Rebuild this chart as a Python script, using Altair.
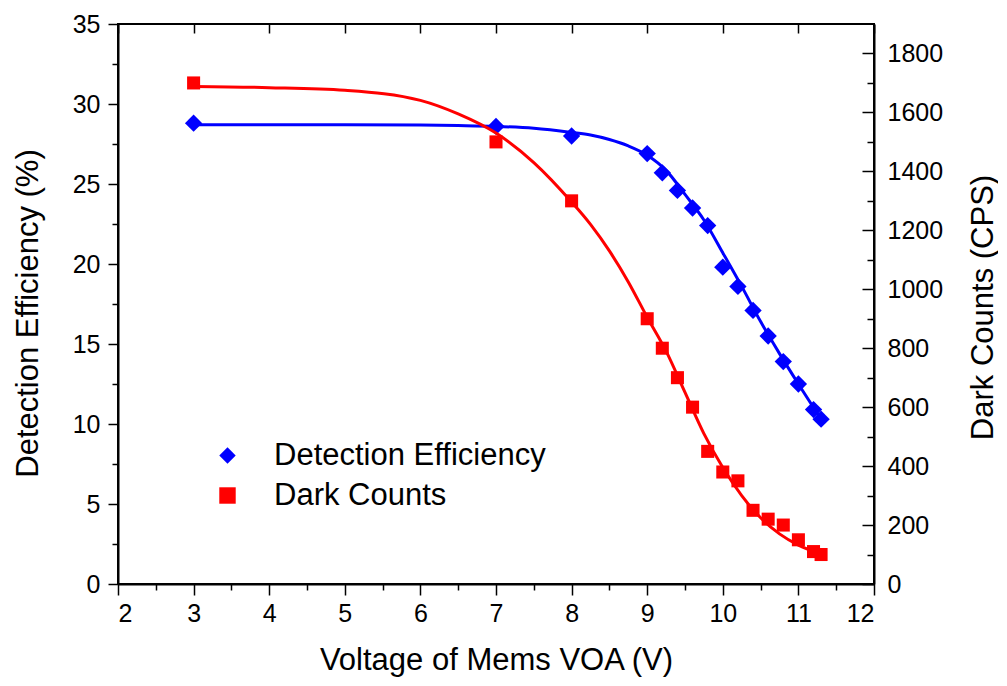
import altair as alt
import pandas as pd

# ---- data ----
volt = [3, 7, 8, 9, 9.2, 9.4, 9.6, 9.8, 10, 10.2, 10.4, 10.6, 10.8, 11, 11.2, 11.3]
det_eff = [28.8, 28.6, 28.0, 26.9, 25.7, 24.6, 23.5, 22.4, 19.8, 18.6, 17.1, 15.5, 13.9, 12.5, 10.9, 10.3]
dark_cts = [1700, 1500, 1300, 900, 800, 700, 600, 450, 380, 350, 250, 220, 200, 150, 110, 100]

# fitted curves
fit_volt = [3, 4, 5, 6, 6.5, 7, 7.5, 8, 8.25, 8.5, 8.75, 9, 9.25, 9.5, 9.75, 10, 10.25, 10.5, 10.75, 11, 11.3]
fit_de = [28.7, 28.7, 28.7, 28.68, 28.65, 28.6, 28.48, 28.22, 28.06, 27.78, 27.38, 26.8, 25.85, 24.35, 22.75, 20.7, 18.6, 16.4, 14.4, 12.5, 10.3]
fit_dc = [1688, 1684, 1675, 1641, 1595, 1530, 1430, 1296, 1220, 1130, 1025, 905, 790, 650, 510, 395, 300, 225, 170, 132, 102]

series_names = ["Detection Efficiency", "Dark Counts"]
series_colors = ["#0000ff", "#ff0000"]
series_shapes = ["diamond", "square"]

x_ticks = [2, 2.5, 3, 3.5, 4, 4.5, 5, 5.5, 6, 6.5, 7, 7.5, 8, 8.5, 9, 9.5, 10, 10.5, 11, 11.5, 12]
x_major = [2, 3, 4, 5, 6, 7, 8, 9, 10, 11, 12]
yl_ticks = [0, 2.5, 5, 7.5, 10, 12.5, 15, 17.5, 20, 22.5, 25, 27.5, 30, 32.5, 35]
yr_major = [0, 200, 400, 600, 800, 1000, 1200, 1400, 1600, 1800]
yr_minor = [100, 300, 500, 700, 900, 1100, 1300, 1500, 1700]

pts_de = pd.DataFrame({"v": volt, "val": det_eff, "series": series_names[0]})
pts_dc = pd.DataFrame({"v": volt, "val": dark_cts, "series": series_names[1]})
fit_de_df = pd.DataFrame({"v": fit_volt, "val": fit_de})
fit_dc_df = pd.DataFrame({"v": fit_volt, "val": fit_dc})

FONT = "Liberation Sans"
W, H = 756, 560

xscale = alt.Scale(domain=[2, 12], nice=False, zero=False)
yl_scale = alt.Scale(domain=[0, 35], nice=False)
yr_scale = alt.Scale(domain=[0, 1900], nice=False)

x_bottom = alt.X(
    "v:Q", scale=xscale,
    axis=alt.Axis(
        values=x_ticks, format="~g",
        labelExpr="datum.value % 1 === 0 ? datum.label : ''",
        tickSize={"condition": {"test": "datum.value % 1 === 0", "value": 11}, "value": 6},
        labelPadding=6, title="Voltage of Mems VOA (V)",
        titleX=W / 2, titleY=76, titleAlign="center", titleBaseline="middle",
    ),
)
x_none = alt.X("v:Q", scale=xscale, axis=None)

y_left = alt.Y(
    "val:Q", scale=yl_scale,
    axis=alt.Axis(
        orient="left", values=yl_ticks, format="~g",
        labelExpr="datum.value % 5 === 0 ? datum.label : ''",
        tickSize={"condition": {"test": "datum.value % 5 === 0", "value": 10}, "value": 6},
        labelPadding=8, title="Detection Efficiency (%)",
        titleAngle=270, titleX=-90, titleY=289, titleAlign="center", titleBaseline="middle",
    ),
)
y_right = alt.Y(
    "val:Q", scale=yr_scale,
    axis=alt.Axis(
        orient="right", values=yr_major, format="d", ticks=False, labelPadding=13,
        title="Dark Counts (CPS)",
        titleAngle=270, titleX=109, titleY=283, titleAlign="center", titleBaseline="middle",
    ),
)

color_enc = alt.Color("series:N", scale=alt.Scale(domain=series_names, range=series_colors),
                      legend=alt.Legend(title=None, orient="none", legendX=94, legendY=416,
                                        labelFontSize=31, labelFont=FONT, symbolSize=270,
                                        labelOffset=31, rowPadding=8, symbolStrokeWidth=0,
                                        labelLimit=0, labelColor="black"))
shape_enc = alt.Shape("series:N", scale=alt.Scale(domain=series_names, range=series_shapes), legend=None)

# Detection efficiency (left axis)
line_de = alt.Chart(fit_de_df).mark_line(color="#0000ff", strokeWidth=3, interpolate="monotone").encode(
    x=x_bottom, y=y_left)
pt_de = alt.Chart(pts_de).mark_point(filled=True, size=300, opacity=1).encode(
    x=x_bottom, y=y_left, color=color_enc, shape=shape_enc)
layer_de = alt.layer(line_de, pt_de)

# Dark counts (right axis)
line_dc = alt.Chart(fit_dc_df).mark_line(color="#ff0000", strokeWidth=3, interpolate="monotone").encode(
    x=x_none, y=y_right)
pt_dc = alt.Chart(pts_dc).mark_point(filled=True, size=170, opacity=1).encode(
    x=x_none, y=y_right, color=color_enc, shape=shape_enc)
layer_dc = alt.layer(line_dc, pt_dc)

# inward ticks on top and right (major)
ticks_major = alt.Chart(pts_dc).mark_point(opacity=0).encode(
    x=alt.X("v:Q", scale=xscale,
            axis=alt.Axis(orient="top", values=x_major, labels=False, domain=False,
                          tickSize=9, offset=-9, title=None)),
    y=alt.Y("val:Q", scale=yr_scale,
            axis=alt.Axis(orient="right", values=yr_major, labels=False, domain=False,
                          tickSize=12, offset=-12, title=None)),
)
# inward minor ticks on right
ticks_minor = alt.Chart(pts_dc).mark_point(opacity=0).encode(
    x=x_none,
    y=alt.Y("val:Q", scale=yr_scale,
            axis=alt.Axis(orient="right", values=yr_minor, labels=False, domain=False,
                          tickSize=7, offset=-7, title=None)),
)

chart = alt.layer(layer_de, layer_dc, ticks_major, ticks_minor).resolve_scale(
    y="independent"
).resolve_axis(
    x="independent", y="independent"
).properties(
    width=W, height=H,
    padding={"left": 110, "top": 16, "right": 124, "bottom": 94},
    autosize=alt.AutoSizeParams(type="none"),
    background="white",
).configure_view(
    stroke="black", strokeWidth=2
).configure_axis(
    grid=False, domainColor="black", domainWidth=2, tickColor="black", tickWidth=1.5,
    labelFont=FONT, labelFontSize=25, labelColor="black",
    titleFont=FONT, titleFontSize=31, titleFontWeight="normal", titleColor="black",
)

chart.save("out.html", embed_options={"renderer": "svg", "actions": False})
